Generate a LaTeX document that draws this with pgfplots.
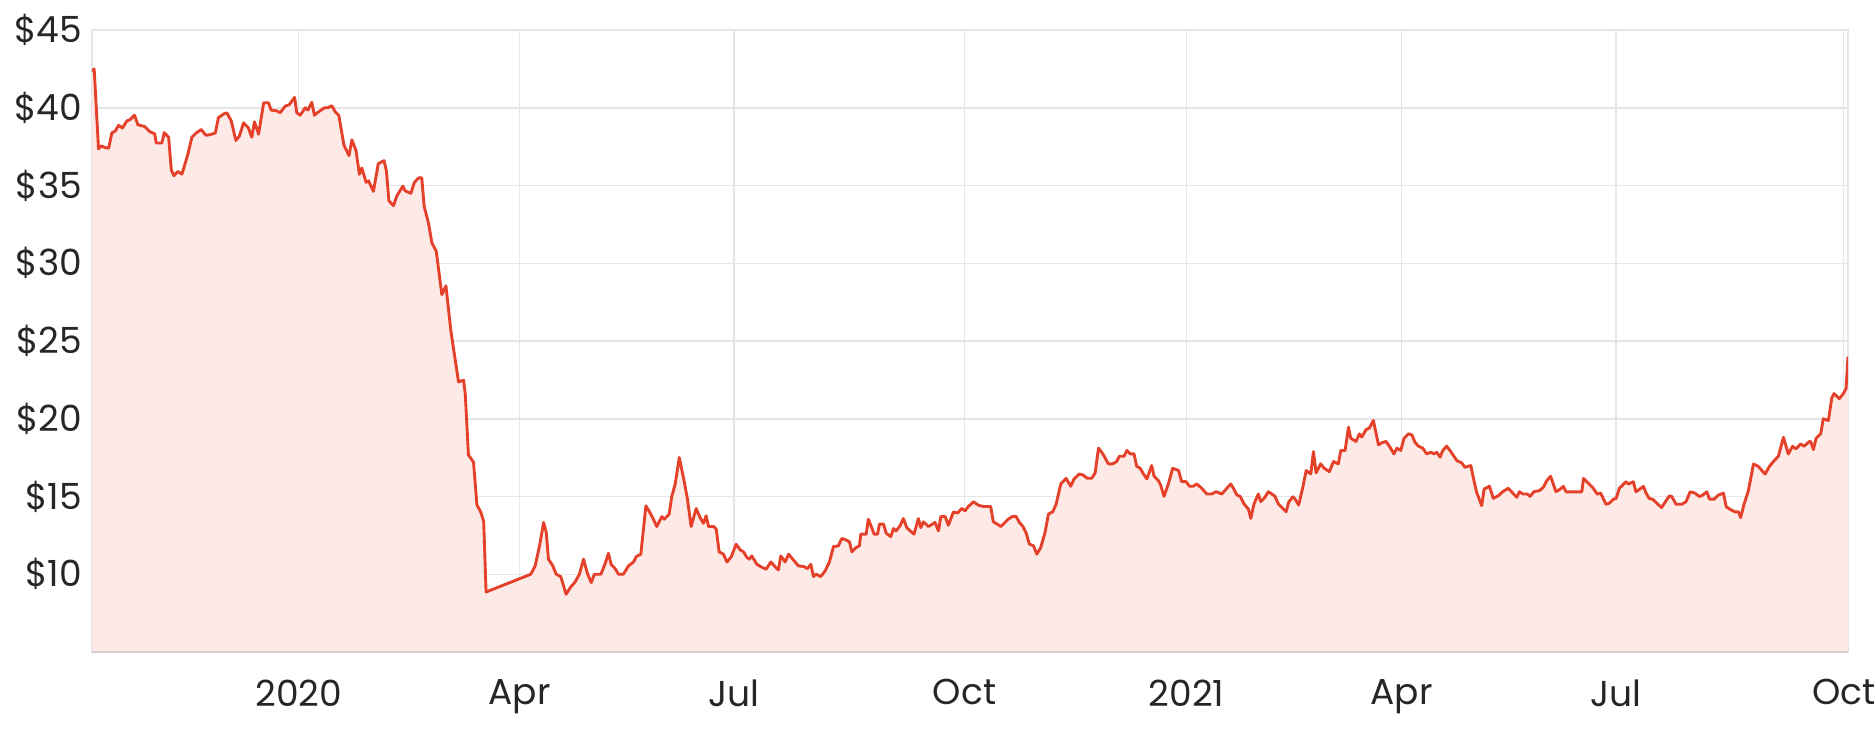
\documentclass[border=0pt]{standalone}
\usepackage{fontspec}
\setmainfont{Poppins}
\usepackage{pgfplots}
\usepackage{pgfplotstable}
\pgfplotsset{compat=1.18}
\definecolor{linecol}{RGB}{228,64,42}
\definecolor{fillcol}{RGB}{253,233,229}
\definecolor{gridgray}{RGB}{230,230,230}
\definecolor{basegray}{RGB}{212,205,205}
\definecolor{textgray}{RGB}{38,38,38}
\pgfplotstableread{
d v
-85.5 42.34
-84.6 42.5
-82.8 37.36
-81.7 37.55
-80.3 37.45
-78.6 37.4
-77.3 38.38
-75.9 38.5
-74.5 38.87
-72.9 38.7
-71.1 39.15
-69.7 39.24
-67.9 39.52
-66.5 38.9
-63.8 38.8
-61.4 38.44
-59.6 38.33
-58.9 37.73
-56.6 37.73
-55.6 38.4
-53.8 38.1
-52.7 36.0
-51.6 35.63
-50.0 35.9
-48.3 35.73
-45.8 37.03
-44.2 38.1
-42.4 38.38
-40.3 38.6
-38.4 38.23
-36.6 38.27
-34.5 38.38
-33.2 39.37
-30.7 39.63
-29.7 39.67
-27.9 39.16
-26.0 37.9
-24.6 38.16
-22.8 39.03
-20.8 38.7
-19.4 38.1
-18.3 39.1
-16.6 38.3
-14.5 40.32
-12.5 40.32
-11.4 39.85
-9.0 39.8
-7.7 39.68
-5.6 40.1
-3.9 40.2
-1.7 40.67
-0.8 39.68
0.6 39.52
2.7 40.0
3.8 39.85
5.4 40.35
6.5 39.52
8.2 39.74
10.7 40.0
12.1 40.0
13.7 40.13
15.1 39.74
16.6 39.5
18.7 37.6
20.8 36.92
22.0 37.94
23.7 37.25
25.1 35.72
26.1 36.13
27.9 35.2
28.9 35.3
30.9 34.62
32.9 36.4
35.3 36.6
36.3 35.9
37.3 34.02
39.2 33.7
40.6 34.34
43.1 34.96
44.0 34.66
46.4 34.5
47.8 35.19
49.6 35.49
50.9 35.49
51.9 33.66
53.7 32.56
55.1 31.3
56.9 30.77
59.2 27.98
60.9 28.55
62.9 25.69
66.1 22.37
68.2 22.48
68.9 21.57
70.2 17.67
72.3 17.21
73.7 14.47
75.3 14.0
76.5 13.4
77.5 8.86
96.0 10.0
97.8 10.54
99.6 11.82
101.3 13.33
102.4 12.68
103.3 10.97
105.1 10.54
106.5 10.0
108.4 9.85
110.6 8.71
112.3 9.14
114.3 9.5
116.1 10.0
117.8 10.97
119.4 10.06
121.0 9.46
122.3 10.0
125.0 10.0
126.8 10.71
128.1 11.35
129.2 10.64
130.9 10.36
132.3 10.0
134.3 10.0
136.4 10.54
138.5 10.79
139.6 11.14
141.5 11.29
143.6 14.4
145.4 13.93
146.7 13.54
148.1 13.07
150.2 13.71
151.2 13.54
153.2 13.86
154.3 15.0
155.7 15.79
157.4 17.51
159.4 16.01
160.8 14.83
162.3 13.07
164.4 14.23
166.0 13.65
167.4 13.28
168.5 13.76
169.5 13.07
171.6 13.07
172.7 12.9
173.9 11.44
175.7 11.29
177.1 10.79
178.9 11.12
180.9 11.93
182.6 11.57
184.0 11.44
185.3 11.1
186.4 10.97
187.4 11.18
189.5 10.64
191.1 10.49
193.3 10.32
195.3 10.79
197.0 10.49
198.4 10.28
199.4 11.18
201.2 10.79
202.6 11.29
204.6 10.92
206.7 10.54
209.0 10.49
210.4 10.36
211.8 10.64
212.9 9.85
214.0 10.0
215.9 9.85
217.7 10.21
219.5 10.79
221.2 11.78
223.2 11.82
224.6 12.3
226.4 12.21
227.8 12.08
228.8 11.44
230.5 11.72
231.9 11.82
232.5 12.58
234.7 12.58
235.6 13.54
237.0 13.0
238.0 12.58
239.4 12.58
240.2 13.22
241.9 13.22
243.0 12.64
244.9 12.42
246.0 12.94
247.1 12.79
248.7 13.11
250.1 13.58
251.5 13.0
252.9 12.79
254.5 12.58
256.3 13.58
257.3 13.0
258.4 13.37
260.5 13.07
263.2 13.33
264.6 12.79
265.6 13.71
267.4 13.71
268.7 13.15
270.8 14.01
272.5 13.93
274.2 14.23
275.6 14.08
277.0 14.36
279.1 14.66
281.1 14.44
283.2 14.36
286.2 14.36
287.3 13.37
289.0 13.22
290.4 13.07
291.8 13.29
293.5 13.55
295.3 13.72
296.7 13.72
298.1 13.33
299.5 13.08
300.9 12.65
302.2 11.94
303.9 11.83
305.3 11.29
306.9 11.72
308.7 12.69
310.1 13.87
311.9 14.02
313.3 14.52
315.2 15.81
317.4 16.17
319.3 15.66
320.7 16.13
322.8 16.45
324.3 16.39
326.2 16.17
328.0 16.17
329.4 16.52
330.8 18.11
332.6 17.74
334.9 17.1
336.7 17.1
338.3 17.25
339.4 17.59
341.4 17.59
342.5 17.96
343.9 17.74
345.5 17.74
346.6 16.95
348.0 16.82
349.4 16.45
350.8 16.13
352.8 16.99
353.8 16.3
355.6 16.02
356.5 15.74
357.9 15.01
359.7 15.81
361.5 16.82
363.9 16.67
365.2 15.96
367.0 15.96
368.4 15.66
370.0 15.66
371.4 15.81
373.5 15.53
375.6 15.16
377.6 15.16
379.4 15.31
381.8 15.16
383.6 15.48
385.5 15.81
386.6 15.53
388.0 15.1
389.4 15.01
391.0 14.52
392.8 14.19
393.8 13.59
395.1 14.52
396.9 15.16
397.9 14.67
399.3 14.88
401.1 15.31
402.5 15.16
403.8 15.01
405.2 14.52
406.6 14.3
408.4 14.02
409.5 14.65
411.2 14.98
412.1 14.84
413.6 14.45
415.3 15.59
416.7 16.67
418.6 16.45
419.7 17.89
420.8 16.52
422.7 17.1
424.1 16.82
426.3 16.6
428.0 17.25
430.0 17.1
431.0 17.96
432.8 17.96
434.2 19.46
435.1 18.75
437.3 18.54
438.7 19.03
439.7 18.82
441.5 19.31
442.8 19.4
444.5 19.89
446.6 18.32
447.9 18.45
449.7 18.54
451.4 18.17
453.0 17.74
454.2 18.11
455.8 17.96
457.2 18.75
459.0 19.03
460.4 18.97
461.7 18.49
463.1 18.24
464.9 18.11
466.6 17.74
468.2 17.85
469.6 17.74
470.7 17.85
472.1 17.53
473.2 17.96
474.8 18.24
476.5 17.89
479.0 17.31
481.0 17.16
482.4 16.88
484.8 16.99
486.1 16.02
487.2 15.27
489.3 14.41
490.3 15.48
492.5 15.66
494.1 14.88
496.2 15.05
498.0 15.31
500.3 15.53
502.1 15.23
503.8 14.95
504.9 15.31
506.3 15.16
508.2 15.16
509.3 15.01
510.9 15.31
513.2 15.38
514.8 15.59
516.2 16.02
517.8 16.3
520.0 15.31
521.7 15.47
523.1 15.65
524.2 15.3
527.2 15.3
530.7 15.3
531.4 16.16
533.4 15.86
535.2 15.58
537.1 15.15
538.5 15.22
540.7 14.5
542.1 14.57
543.8 14.83
544.9 14.87
546.2 15.52
549.0 15.95
550.0 15.8
552.0 15.95
553.1 15.3
556.2 15.65
557.3 15.22
558.6 14.87
560.0 14.83
561.7 14.57
563.7 14.29
565.5 14.72
566.9 15.04
567.9 15.0
569.7 14.5
572.0 14.5
573.8 14.66
575.5 15.3
577.5 15.22
579.3 15.0
580.7 15.09
582.4 15.3
583.5 14.83
585.4 14.83
587.2 15.09
589.3 15.22
590.4 14.35
592.0 14.18
594.1 14.01
595.5 14.01
596.4 13.64
597.8 14.5
599.6 15.37
601.7 17.09
603.7 16.94
606.5 16.44
608.3 16.94
609.9 17.24
612.0 17.59
614.1 18.81
616.1 17.74
617.9 18.23
619.3 18.06
621.2 18.38
622.6 18.23
624.8 18.53
625.4 18.53
626.5 18.02
627.6 18.75
629.5 19.03
630.6 20.0
632.7 19.89
634.1 21.34
635.0 21.62
637.2 21.29
638.9 21.62
640.0 21.94
640.8 23.99
}\pricedata
\begin{document}
\begin{tikzpicture}
\path[use as bounding box] (-36.8pt,-36.8pt) rectangle (713.6pt,260.8pt);
\begin{axis}[
  at={(0,0)}, anchor=south west,
  scale only axis, width=702.4pt, height=248.8pt,
  xmin=-85.5, xmax=640.8, ymin=5, ymax=45,
  xtick={0,91.3,180.1,275.4,367.3,456.2,544.9,639},
  xticklabels={2020,Apr,Jul,Oct,2021,Apr,Jul,Oct},
  ytick={10,15,20,25,30,35,40,45},
  yticklabels={\$10,\$15,\$20,\$25,\$30,\$35,\$40,\$45},
  grid=major,
  major grid style={draw=gridgray, line width=0.6pt},
  major tick length=0pt,
  axis line style={draw=gridgray, line width=0.6pt},
  tick label style={font=\fontsize{14.4}{16}\selectfont, text=textgray},
  xticklabel style={yshift=-7.5pt},
  yticklabel style={xshift=-0.5pt},
]
\addplot[draw=none, fill=fillcol] table[x=d, y=v] {\pricedata} \closedcycle;
\addplot[draw=linecol, line width=1.15pt, line join=round, mark=none] table[x=d, y=v] {\pricedata};
\draw[basegray, line width=1pt] (axis cs:-85.5,5) -- (axis cs:640.8,5);
\end{axis}
\end{tikzpicture}
\end{document}
